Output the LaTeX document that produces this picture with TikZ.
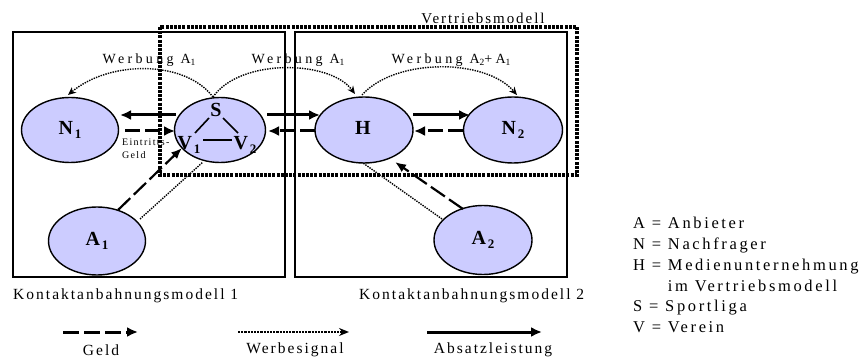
\documentclass[tikz,border=0pt]{standalone}
\usepackage{fontspec}
\setmainfont{Liberation Serif}
\newfontfamily\lab[LetterSpace=13]{Liberation Serif}
\newfontfamily\wlab[LetterSpace=24]{Liberation Serif}
\newfontfamily\klab[LetterSpace=16]{Liberation Serif}
\usetikzlibrary{shapes.geometric,arrows.meta,calc}
\definecolor{lav}{RGB}{204,204,255}
% bold node caption with lowered index
\newcommand\nlab[2]{{\bfseries\fontsize{20}{20}\selectfont #1\kern2pt\raisebox{-4.5pt}{\fontsize{13}{13}\selectfont #2}}}
\newcommand\idx[1]{\raisebox{-2.5pt}{\fontsize{9.5}{9.5}\selectfont #1}}
\begin{document}
\begin{tikzpicture}[x=1pt,y=1pt,
  ell/.style={ellipse, draw, line width=1.4pt, fill=lav, inner sep=0pt},
  frame/.style={line width=1.5pt},
  vbox/.style={line width=3.2pt, dash pattern=on 3pt off 1.2pt},
  flow/.style={line width=3pt, -{Latex[length=11pt,width=10pt]}},
  money/.style={flow, dash pattern=on 15pt off 5pt},
  moneythin/.style={line width=2.2pt, dash pattern=on 17pt off 5pt, -{Latex[length=11pt,width=9pt]}},
  signal/.style={line width=1.4pt, dash pattern=on 1.4pt off 1.1pt},
  signalarrow/.style={signal, -{Stealth[length=8pt,width=7pt]}},
  txt/.style={font=\lab\fontsize{15.5}{15.5}\selectfont, inner sep=0pt},
  wtxt/.style={font=\wlab\fontsize{14}{14}\selectfont, inner sep=0pt},
  inner/.style={line width=1.6pt}]
\useasboundingbox (0,0) rectangle (867,-358);

% the two contact models
\draw[frame] (13,-32) rectangle (285,-277);
\draw[frame] (295,-32) rectangle (567,-277);

% actors
\node[ell, minimum width=97pt, minimum height=65pt] (N1) at (70,-130) {\nlab{N}{1}};
\node[ell, minimum width=91pt, minimum height=65pt] (S) at (220,-130) {};
\node[ell, minimum width=98pt, minimum height=66pt] (H) at (364,-130) {\nlab{H}{}};
\node[ell, minimum width=99pt, minimum height=66pt] (N2) at (513,-130) {\nlab{N}{2}};
\node[ell, minimum width=97pt, minimum height=68pt] (A1) at (97,-241) {\nlab{A}{1}};
\node[ell, minimum width=98pt, minimum height=69pt] (A2) at (483,-240) {\nlab{A}{2}};

% league and clubs inside S
\node[inner sep=0pt] (Stxt) at ($(S)+(-3,18)$) {\nlab{S}{}};
\node[inner sep=0pt] (V1) at ($(S)+(-31,-15)$) {\nlab{V}{1}};
\node[inner sep=0pt] (V2) at ($(S)+(25,-15)$) {\nlab{V}{2}};
\draw[inner] ($(S)+(-25,-3)$) -- ($(S)+(-11,12)$);
\draw[inner] ($(S)+(3,12)$) -- ($(S)+(18,-3)$);
\draw[inner] ($(S)+(-17,-10)$) -- ($(S)+(12,-10)$);

% sales flows
\draw[flow] ($(S)+(-44,15)$) -- ($(N1)+(50,15)$);
\draw[flow] ($(S)+(47,15)$) -- ($(H)+(-44,15)$);
\draw[flow] ($(H)+(49,15)$) -- ($(N2)+(-43,15)$);

% money flows
\draw[money] ($(N1)+(55,-1)$) -- ($(S)+(-45,-1)$);
\draw[money] ($(H)+(-49,-1)$) -- ($(S)+(48,-1)$);
\draw[money] ($(N2)+(-50,-1)$) -- ($(H)+(50,-1)$);
\draw[moneythin] ($(A1)+(21,31)$) -- ($(S)+(-38,-18)$);
\draw[moneythin] ($(A2)+(-20,31)$) -- ($(H)+(31,-32)$);

% advertising signals
\draw[signal] ($(A1)+(43,22)$) -- ($(S)+(-17,-32)$);
\draw[signal] ($(A2)+(-41,21)$) -- ($(H)+(-1,-33)$);
\draw[signalarrow] ($(S)+(-7,33)$) .. controls (185,-60) and (110,-60) .. ($(N1)+(-2,35)$);
\draw[signalarrow] ($(S)+(-7,33)$) .. controls (240,-58) and (330,-60) .. ($(H)+(-9,36)$);
\draw[signalarrow] ($(H)+(-2,35)$) .. controls (395,-58) and (485,-58) .. ($(N2)+(4,35)$);

% labels
\node[wtxt] (w1) at (149,-60) {Werbung A\idx{1}};
\node[wtxt] (w2) at (298,-60) {Werbung A\idx{1}};
\node[wtxt] (w3) at (451,-60) {Werbung A\idx{2}+A\idx{1}};
\node[font=\lab\fontsize{10}{10}\selectfont, inner sep=0pt, anchor=west] (eg1) at (122,-142) {Eintritts-};
\node[font=\lab\fontsize{10}{10}\selectfont, inner sep=0pt, anchor=west] (eg2) at (122,-155) {Geld};
\node[txt, font=\lab\fontsize{15}{15}\selectfont] (vm) at (483,-18) {Vertriebsmodell};
\node[txt, anchor=west] (km1) at (13,-296) {Kontaktanbahnungsmodell 1};
\node[txt, anchor=west] (km2) at (359,-296) {Kontaktanbahnungsmodell 2};

% distribution model
\draw[vbox] (160,-27) rectangle (577,-175);

% key
\node[font=\klab\fontsize{16.5}{16.5}\selectfont, inner sep=0pt, anchor=west, align=left] (key) at (633,-275)
  {A = Anbieter\\[4.3pt]N = Nachfrager\\[4.3pt]H = Medienunternehmung\\[4.3pt]\hphantom{H = }im Vertriebsmodell\\[4.3pt]S = Sportliga\\[4.3pt]V = Verein};

% legend of the line styles
\coordinate (g0) at (63,-332);   \coordinate (g1) at (138,-332);
\coordinate (s0) at (238,-332);  \coordinate (s1) at (349,-332);
\coordinate (a0) at (427,-332);  \coordinate (a1) at (542,-332);
\draw[money, line width=3pt, dash pattern=on 16pt off 5pt] (g0) -- (g1);
\draw[line width=2.2pt, dash pattern=on 2.2pt off 1pt, -{Stealth[length=10pt,width=8pt]}] (s0) -- (s1);
\draw[flow] (a0) -- (a1);
\node[txt] (lg) at (101,-350) {Geld};
\node[txt] (ls) at (295,-350) {Werbesignal};
\node[txt] (la) at (493,-350) {Absatzleistung};
\end{tikzpicture}
\end{document}
